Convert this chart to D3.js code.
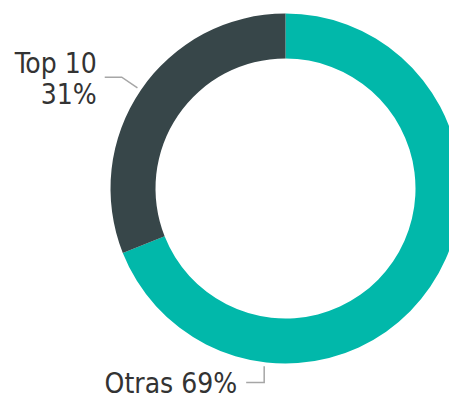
<!DOCTYPE html>
<html>
<head>
<meta charset="utf-8">
<script src="https://cdn.jsdelivr.net/npm/d3@7"></script>
<style>
  body { margin: 0; background: #fff; }
  svg { display: block; }
  .lbl { font-family: "DejaVu Sans Condensed", "DejaVu Sans", sans-serif; font-size: 28px; fill: #333; }
  .leader { fill: none; stroke: #a6a6a6; stroke-width: 1.5; }
</style>
</head>
<body>
<div id="chart"></div>
<script>
const categories = ["Otras", "Top 10"];
const values = [69, 31];
const colors = ["#01B8AA", "#374649"];

const ctx = {
    W: 449,
    H: 400,
    CX: 285.5,
    CY: 188.5,
    R_OUT: 175,
    R_IN: 130,
};

function createViz() {
    const svg = d3.select("#chart").append("svg")
                  .attr("width", ctx.W)
                  .attr("height", ctx.H);

    const data = categories.map((c, i) => ({ name: c, value: values[i], color: colors[i] }));

    const pie = d3.pie().sort(null).value(d => d.value);
    const arcs = pie(data);

    const arc = d3.arc().innerRadius(ctx.R_IN).outerRadius(ctx.R_OUT);

    const g = svg.append("g").attr("transform", `translate(${ctx.CX},${ctx.CY})`);

    g.selectAll("path.slice")
     .data(arcs)
     .enter()
     .append("path")
     .attr("class", "slice")
     .attr("d", arc)
     .style("fill", d => d.data.color);

    // point on a circle of radius r at angle a (clockwise from 12 o'clock)
    const pt = (a, r) => [r * Math.sin(a), -r * Math.cos(a)];

    // Top 10: leader from the middle of the slice, out and to the left
    const top = arcs[1];
    const midTop = (top.startAngle + top.endAngle) / 2;
    const p0 = pt(midTop, ctx.R_OUT + 4);
    const p1 = pt(midTop, ctx.R_OUT + 23);
    const p2 = [p1[0] - 17, p1[1]];
    g.append("path")
     .attr("class", "leader")
     .attr("d", d3.line()([p0, p1, p2]));

    const tTop = g.append("text")
                  .attr("class", "lbl")
                  .attr("text-anchor", "end")
                  .attr("x", p2[0] - 8)
                  .attr("y", p2[1] - 4);
    tTop.append("tspan").text(top.data.name);
    tTop.append("tspan").attr("x", p2[0] - 8).attr("dy", 31).text(top.data.value + "%");

    // Otras: label sits under the donut, leader drops from just past the bottom
    const oth = arcs[0];
    const a0 = oth.endAngle - (oth.endAngle - Math.PI) * 0.9;
    const q0 = pt(a0, ctx.R_OUT + 4);
    const q1 = [q0[0], ctx.R_OUT + 19];
    const q2 = [q1[0] - 18, q1[1]];
    g.append("path")
     .attr("class", "leader")
     .attr("d", d3.line()([q0, q1, q2]));

    g.append("text")
     .attr("class", "lbl")
     .attr("text-anchor", "end")
     .attr("x", q2[0] - 9)
     .attr("y", q2[1] + 10)
     .text(oth.data.name + " " + oth.data.value + "%");
}

createViz();
</script>
</body>
</html>
